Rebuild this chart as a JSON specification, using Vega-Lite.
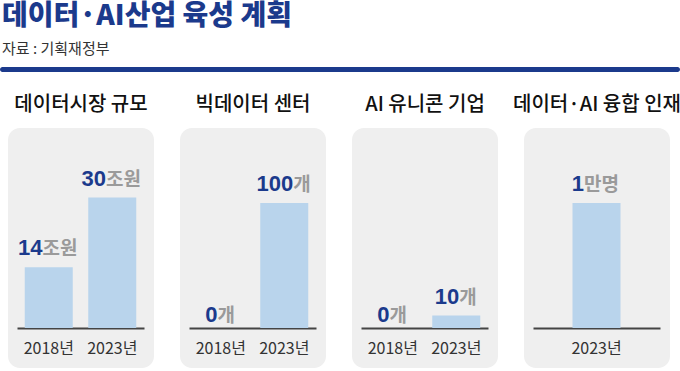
{
  "$schema": "https://vega.github.io/schema/vega-lite/v6.json",
  "padding": {"top": 2, "left": 0, "right": 0, "bottom": 0},
  "background": "white",
  "data": {"values": [
    {"panel": "데이터시장 규모", "year": "2018년", "value": 14, "unit": "조원"},
    {"panel": "데이터시장 규모", "year": "2023년", "value": 30, "unit": "조원"},
    {"panel": "빅데이터 센터", "year": "2018년", "value": 0, "unit": "개"},
    {"panel": "빅데이터 센터", "year": "2023년", "value": 100, "unit": "개"},
    {"panel": "AI 유니콘 기업", "year": "2018년", "value": 0, "unit": "개"},
    {"panel": "AI 유니콘 기업", "year": "2023년", "value": 10, "unit": "개"},
    {"panel": "데이터·AI 융합 인재", "year": "2023년", "value": 1, "unit": "만명"}
  ]},
  "vconcat": [
    {
      "width": 680,
      "height": 5,
      "data": {"values": [{"k": 1}]},
      "title": {
        "text": "데이터·AI산업 육성 계획",
        "subtitle": "자료 : 기획재정부",
        "anchor": "start",
        "font": "Noto Sans CJK KR",
        "fontSize": 28,
        "fontWeight": 900,
        "color": "#1b3a8c",
        "subtitleFont": "Noto Sans CJK KR",
        "subtitleFontSize": 15,
        "subtitleColor": "#333333",
        "subtitlePadding": 11,
        "offset": 7,
        "dx": 2
      },
      "view": {"fill": "#1b3a8c", "cornerRadius": 2.5, "stroke": null},
      "mark": {"type": "text", "text": ""},
      "encoding": {}
    },
    {
      "hconcat": [
        {
          "width": 1, "height": 240,
          "data": {"values": [{"k": 1}]},
          "view": {"fill": null, "stroke": null},
          "mark": {"type": "text", "text": ""},
          "encoding": {}
        },
        {
          "hconcat": [
            {
              "title": "데이터시장 규모",
              "width": 146, "height": 240,
              "transform": [{"filter": {"field": "panel", "equal": "데이터시장 규모"}}],
              "encoding": {
                "x": {"field": "year", "type": "nominal", "sort": null,
                      "scale": {"range": [9, 136], "paddingInner": 0, "paddingOuter": 0}},
                "y": {"field": "value", "type": "quantitative", "axis": null,
                      "scale": {"domain": [0, 46], "range": [200, 0], "nice": false}}
              },
              "layer": [
                {"mark": {"type": "bar", "width": 48, "color": "#b9d4ec"}},
                {"mark": {"type": "text", "font": "Liberation Sans", "fontWeight": "bold", "fontSize": 22, "color": "#1b3a8c", "align": "right", "baseline": "alphabetic",
                          "dx": {"expr": "(length(toString(datum.value))*12.2 - length(datum.unit)*18.5)/2"},
                          "dy": {"expr": "datum.value == 0 ? -6 : -12"}},
                 "encoding": {"text": {"field": "value", "type": "quantitative", "format": "d"}}},
                {"mark": {"type": "text", "font": "Noto Sans CJK KR", "fontWeight": "bold", "fontSize": 19, "color": "#9a9a9a", "align": "left", "baseline": "alphabetic",
                          "dx": {"expr": "(length(toString(datum.value))*12.2 - length(datum.unit)*18.5)/2"},
                          "dy": {"expr": "datum.value == 0 ? -6 : -12"}},
                 "encoding": {"text": {"field": "unit", "type": "nominal"}}}
              ]
            },
            {
              "title": "빅데이터 센터",
              "width": 146, "height": 240,
              "transform": [{"filter": {"field": "panel", "equal": "빅데이터 센터"}}],
              "encoding": {
                "x": {"field": "year", "type": "nominal", "sort": null,
                      "scale": {"range": [9, 136], "paddingInner": 0, "paddingOuter": 0}},
                "y": {"field": "value", "type": "quantitative", "axis": null,
                      "scale": {"domain": [0, 160], "range": [200, 0], "nice": false}}
              },
              "layer": [
                {"mark": {"type": "bar", "width": 48, "color": "#b9d4ec"}},
                {"mark": {"type": "text", "font": "Liberation Sans", "fontWeight": "bold", "fontSize": 22, "color": "#1b3a8c", "align": "right", "baseline": "alphabetic",
                          "dx": {"expr": "(length(toString(datum.value))*12.2 - length(datum.unit)*18.5)/2"},
                          "dy": {"expr": "datum.value == 0 ? -6 : -12"}},
                 "encoding": {"text": {"field": "value", "type": "quantitative", "format": "d"}}},
                {"mark": {"type": "text", "font": "Noto Sans CJK KR", "fontWeight": "bold", "fontSize": 19, "color": "#9a9a9a", "align": "left", "baseline": "alphabetic",
                          "dx": {"expr": "(length(toString(datum.value))*12.2 - length(datum.unit)*18.5)/2"},
                          "dy": {"expr": "datum.value == 0 ? -6 : -12"}},
                 "encoding": {"text": {"field": "unit", "type": "nominal"}}}
              ]
            },
            {
              "title": "AI 유니콘 기업",
              "width": 146, "height": 240,
              "transform": [{"filter": {"field": "panel", "equal": "AI 유니콘 기업"}}],
              "encoding": {
                "x": {"field": "year", "type": "nominal", "sort": null,
                      "scale": {"range": [9, 136], "paddingInner": 0, "paddingOuter": 0}},
                "y": {"field": "value", "type": "quantitative", "axis": null,
                      "scale": {"domain": [0, 160], "range": [200, 0], "nice": false}}
              },
              "layer": [
                {"mark": {"type": "bar", "width": 48, "color": "#b9d4ec"}},
                {"mark": {"type": "text", "font": "Liberation Sans", "fontWeight": "bold", "fontSize": 22, "color": "#1b3a8c", "align": "right", "baseline": "alphabetic",
                          "dx": {"expr": "(length(toString(datum.value))*12.2 - length(datum.unit)*18.5)/2"},
                          "dy": {"expr": "datum.value == 0 ? -6 : -12"}},
                 "encoding": {"text": {"field": "value", "type": "quantitative", "format": "d"}}},
                {"mark": {"type": "text", "font": "Noto Sans CJK KR", "fontWeight": "bold", "fontSize": 19, "color": "#9a9a9a", "align": "left", "baseline": "alphabetic",
                          "dx": {"expr": "(length(toString(datum.value))*12.2 - length(datum.unit)*18.5)/2"},
                          "dy": {"expr": "datum.value == 0 ? -6 : -12"}},
                 "encoding": {"text": {"field": "unit", "type": "nominal"}}}
              ]
            },
            {
              "title": "데이터·AI 융합 인재",
              "width": 146, "height": 240,
              "transform": [{"filter": {"field": "panel", "equal": "데이터·AI 융합 인재"}}],
              "encoding": {
                "x": {"field": "year", "type": "nominal", "sort": null,
                      "scale": {"range": [9, 136], "paddingInner": 0, "paddingOuter": 0}},
                "y": {"field": "value", "type": "quantitative", "axis": null,
                      "scale": {"domain": [0, 1.6], "range": [200, 0], "nice": false}}
              },
              "layer": [
                {"mark": {"type": "bar", "width": 48, "color": "#b9d4ec"}},
                {"mark": {"type": "text", "font": "Liberation Sans", "fontWeight": "bold", "fontSize": 22, "color": "#1b3a8c", "align": "right", "baseline": "alphabetic",
                          "dx": {"expr": "(length(toString(datum.value))*12.2 - length(datum.unit)*18.5)/2"},
                          "dy": {"expr": "datum.value == 0 ? -6 : -12"}},
                 "encoding": {"text": {"field": "value", "type": "quantitative", "format": "d"}}},
                {"mark": {"type": "text", "font": "Noto Sans CJK KR", "fontWeight": "bold", "fontSize": 19, "color": "#9a9a9a", "align": "left", "baseline": "alphabetic",
                          "dx": {"expr": "(length(toString(datum.value))*12.2 - length(datum.unit)*18.5)/2"},
                          "dy": {"expr": "datum.value == 0 ? -6 : -12"}},
                 "encoding": {"text": {"field": "unit", "type": "nominal"}}}
              ]
            }
          ],
          "spacing": 26,
          "bounds": "flush"
        }
      ],
      "spacing": 7,
      "bounds": "flush"
    }
  ],
  "spacing": 20,
  "config": {
    "font": "Noto Sans CJK KR",
    "view": {"fill": "#efefef", "cornerRadius": 12, "stroke": null},
    "title": {"font": "Noto Sans CJK KR", "fontSize": 20, "fontWeight": 500, "color": "#111111", "offset": 13, "anchor": "middle"},
    "axisX": {
      "title": null, "orient": "bottom", "offset": -40,
      "domainColor": "#444444", "domainWidth": 2, "ticks": false,
      "labelFont": "Liberation Sans Narrow, Noto Sans CJK KR", "labelFontSize": 16,
      "labelColor": "#333333", "labelPadding": 12, "labelAngle": 0
    }
  }
}
